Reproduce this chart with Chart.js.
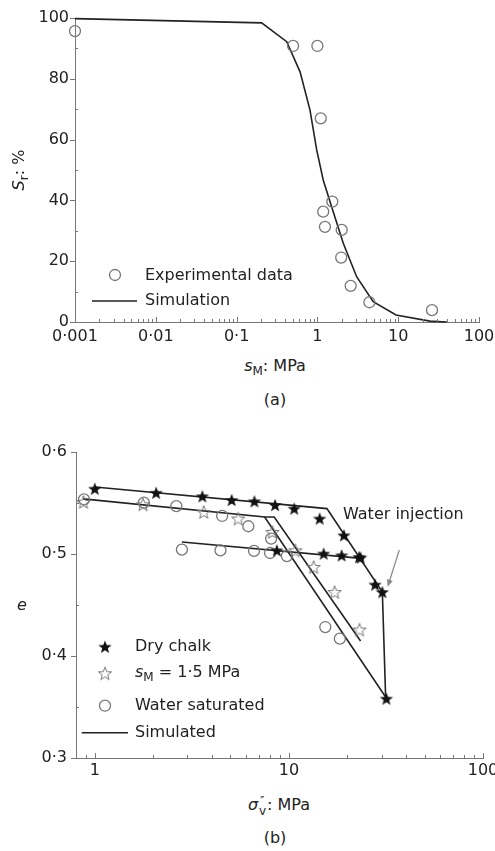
<!DOCTYPE html>
<html><head><meta charset="utf-8">
<script src="https://cdn.jsdelivr.net/npm/chart.js@4"></script>
<style>
body{margin:0;background:#fff;width:495px;height:851px;position:relative;overflow:hidden;font-family:"DejaVu Sans";color:#222}
.c{position:absolute;left:0;width:495px;height:350px}
.t{position:absolute;font-size:16px;white-space:nowrap;line-height:1;transform:translate(-50%,-50%)}
.t sub{font-size:12px;vertical-align:-4px;line-height:0}
.ss{display:inline-block;position:relative;width:9px;height:10px}
.ss .u{position:absolute;left:2px;top:-5px;font-size:12px}
.ss .d{position:absolute;left:1px;top:5px;font-size:12px}
</style></head><body>
<div class="c" style="top:0"><canvas id="ca"></canvas></div>
<div class="c" style="top:430px"><canvas id="cb"></canvas></div>
<div class="t" style="left:19px;top:170px;transform:translate(-50%,-50%) rotate(-90deg)"><i>S</i><sub>r</sub>: %</div>
<div class="t" style="left:275px;top:366px"><i>s</i><sub>M</sub>: MPa</div>
<div class="t" style="left:275px;top:400px">(a)</div>
<div class="t" style="left:22px;top:605px"><i>e</i></div>
<div class="t" style="left:279px;top:805px"><i>σ</i><span class="ss"><span class="u">″</span><span class="d">v</span></span>: MPa</div>
<div class="t" style="left:275px;top:838px">(b)</div>
<script>
// ---------- Chart (a) data ----------
const expX = [0.001, 0.5, 1.0, 1.1, 1.53, 1.18, 1.24, 2.0, 1.97, 2.58, 4.4, 26.2];
const expY = [95.7, 90.8, 90.8, 67, 39.6, 36.3, 31.3, 30.3, 21.2, 11.9, 6.5, 3.9];
const simX = [0.001, 0.204, 0.417, 0.61, 0.81, 0.98, 1.18, 1.5, 2.09, 3.06, 4.9, 9.4, 24.7, 39.8];
const simY = [99.8, 98.4, 92.2, 82.3, 69.7, 56.6, 46.7, 37.9, 25.9, 14.9, 6.7, 2.3, 0.3, 0];
const aMajorX = [0.001, 0.01, 0.1, 1, 10, 100];
const aMajorY = [0, 20, 40, 60, 80, 100];
const aMinorY = [10, 30, 50, 70, 90];

// ---------- Chart (b) data ----------
const dryX = [1.0, 2.07, 3.58, 5.07, 6.64, 8.49, 10.65, 14.4, 19.2, 23.4, 27.8, 30.3, 31.8, 8.67, 15.1, 18.7, 23.0];
const dryY = [0.564, 0.560, 0.5566, 0.553, 0.5517, 0.548, 0.5445, 0.5347, 0.5183, 0.4965, 0.470, 0.4627, 0.3582, 0.5036, 0.5004, 0.4987, 0.497];
const smX = [0.874, 1.77, 3.64, 5.48, 8.22, 10.8, 13.4, 17.2, 23.1];
const smY = [0.551, 0.5487, 0.5412, 0.5347, 0.5216, 0.5036, 0.4873, 0.4627, 0.4259];
const satX = [0.88, 1.79, 2.63, 4.53, 6.18, 8.1, 2.81, 4.44, 6.61, 8.0, 9.76, 15.4, 18.3];
const satY = [0.5536, 0.5504, 0.547, 0.5373, 0.5272, 0.5151, 0.5043, 0.5036, 0.503, 0.501, 0.498, 0.4284, 0.417];
const dryLineX = [1.0, 15.7, 30.3, 31.5];
const dryLineY = [0.5657, 0.5445, 0.4627, 0.3598];
const satLineX = [0.87, 7.5, 31.5];
const satLineY = [0.554, 0.5363, 0.3598];
const smLineX = [7.5, 8.4, 23.4];
const smLineY = [0.5363, 0.5363, 0.4147];
const reloadX = [2.81, 24.4];
const reloadY = [0.5118, 0.4955];
const bMajorX = [1, 10, 100];
const bMajorY = [0.3, 0.4, 0.5, 0.6];
const bMinorY = [0.35, 0.45, 0.55];

function minorsLog(lo, hi, min, max){
  const out=[];
  for(let e=lo;e<hi;e++){const d=Math.pow(10,e);for(let k=2;k<=9;k++){const v=k*d;if(v>=min&&v<=max)out.push(v);} }
  return out;
}
const aMinorX = minorsLog(-3, 2, 0.001, 100);
const bMinorX = minorsLog(-1, 2, 0.8, 100);

const pts = (xs, ys) => xs.map((x,i)=>({x, y: ys[i]}));
const fmt = v => String(v).replace('.', '·');

Chart.defaults.font.family = '"DejaVu Sans"';
Chart.defaults.font.size = 16;
Chart.defaults.color = '#222';

const AXC = '#777';
const LINEC = '#222';
const CIRC = '#777';

function makeStar(fill, stroke){
  const c=document.createElement('canvas'); c.width=16; c.height=16;
  const g=c.getContext('2d'); g.beginPath();
  for(let i=0;i<10;i++){const r=i%2?2.9:7; const a=-Math.PI/2+i*Math.PI/5; g.lineTo(8+r*Math.cos(a),8.7+r*Math.sin(a));}
  g.closePath();
  if(fill){g.fillStyle=fill; g.fill();}
  if(stroke){g.strokeStyle=stroke; g.lineWidth=1; g.stroke();}
  return c;
}
const starFilled = makeStar('#111', null);
const starOpen = makeStar(null, '#777');

const tickPlugin = {
  id:'ticks2',
  afterDraw(chart, args, o){
    const ctx=chart.ctx, xs=chart.scales.x, ys=chart.scales.y, a=chart.chartArea;
    ctx.save(); ctx.strokeStyle=AXC; ctx.lineWidth=1; ctx.beginPath();
    o.majorX.forEach(v=>{const p=Math.round(xs.getPixelForValue(v))+0.5; ctx.moveTo(p,a.bottom); ctx.lineTo(p,a.bottom-5);});
    o.minorX.forEach(v=>{const p=Math.round(xs.getPixelForValue(v))+0.5; ctx.moveTo(p,a.bottom); ctx.lineTo(p,a.bottom-3);});
    o.majorY.forEach(v=>{const p=Math.round(ys.getPixelForValue(v))+0.5; ctx.moveTo(a.left,p); ctx.lineTo(a.left-5,p);});
    o.minorY.forEach(v=>{const p=Math.round(ys.getPixelForValue(v))+0.5; ctx.moveTo(a.left,p); ctx.lineTo(a.left+3,p);});
    ctx.stroke(); ctx.restore();
  }
};

function xScale(min, max, majors, pad, axisH){
  return {type:'logarithmic', min, max,
    grid:{display:true, drawOnChartArea:false, drawTicks:false},
    border:{display:true, color:AXC, width:1},
    ticks:{autoSkip:false, maxRotation:0, padding:pad, color:'#222', callback:v=>fmt(v)},
    afterBuildTicks:s=>{s.ticks=majors.map(v=>({value:v}));},
    afterFit:s=>{s.height=axisH; s.paddingLeft=0; s.paddingRight=0;}
  };
}
function yScale(min, max, majors, pad, axisW, f){
  return {type:'linear', min, max,
    grid:{display:true, drawOnChartArea:false, drawTicks:false},
    border:{display:true, color:AXC, width:1},
    ticks:{autoSkip:false, padding:pad, color:'#222', callback:f},
    afterBuildTicks:s=>{s.ticks=majors.map(v=>({value:v}));},
    afterFit:s=>{s.width=axisW; s.paddingTop=0; s.paddingBottom=0;}
  };
}

// ---------- Chart (a) ----------
const legendA = {
  id:'legA',
  afterDraw(chart){
    const ctx=chart.ctx; ctx.save();
    ctx.strokeStyle=CIRC; ctx.lineWidth=1.3;
    ctx.beginPath(); ctx.arc(115,275,5.5,0,Math.PI*2); ctx.stroke();
    ctx.strokeStyle=LINEC; ctx.lineWidth=1.6;
    ctx.beginPath(); ctx.moveTo(92,301); ctx.lineTo(137,301); ctx.stroke();
    ctx.fillStyle='#222'; ctx.font='16px "DejaVu Sans"'; ctx.textBaseline='middle';
    ctx.fillText('Experimental data',145,276);
    ctx.fillText('Simulation',145,301);
    ctx.restore();
  }
};
new Chart(document.getElementById('ca'), {
  type:'scatter',
  data:{datasets:[
    {data:pts(expX,expY), pointStyle:'circle', pointRadius:5.5, pointBorderColor:CIRC, pointBackgroundColor:'rgba(0,0,0,0)', pointBorderWidth:1.3, showLine:false, clip:false, order:0},
    {data:pts(simX,simY), showLine:true, borderColor:LINEC, borderWidth:1.6, pointRadius:0, tension:0, clip:false, order:1}
  ]},
  options:{responsive:true, maintainAspectRatio:false, animation:false, events:[],
    layout:{padding:{top:18, right:16, left:0, bottom:0}},
    plugins:{legend:{display:false}, tooltip:{enabled:false},
      ticks2:{majorX:aMajorX, minorX:aMinorX, majorY:aMajorY, minorY:aMinorY}},
    scales:{x:xScale(0.001,100,aMajorX,5,28), y:yScale(0,100,aMajorY,6,75,v=>String(v))}
  },
  plugins:[tickPlugin, legendA]
});

// ---------- Chart (b) ----------
const legendB = {
  id:'legB',
  afterDraw(chart){
    const ctx=chart.ctx; ctx.save();
    ctx.drawImage(starFilled,105-8,216.7-8);
    ctx.drawImage(starOpen,105-8,243.3-8);
    ctx.strokeStyle=CIRC; ctx.lineWidth=1.3;
    ctx.beginPath(); ctx.arc(105,275.7,5.5,0,Math.PI*2); ctx.stroke();
    ctx.strokeStyle=LINEC; ctx.lineWidth=1.6;
    ctx.beginPath(); ctx.moveTo(81.7,302.7); ctx.lineTo(128,302.7); ctx.stroke();
    ctx.fillStyle='#222'; ctx.textBaseline='middle';
    ctx.font='16px "DejaVu Sans"';
    ctx.fillText('Dry chalk',135,216.7);
    ctx.fillText('Water saturated',135,275.7);
    ctx.fillText('Simulated',135,302.7);
    ctx.font='italic 16px "DejaVu Sans"';
    ctx.fillText('s',135,243.3);
    let x=135+ctx.measureText('s').width;
    ctx.font='12px "DejaVu Sans"';
    ctx.fillText('M',x,248);
    x+=ctx.measureText('M').width;
    ctx.font='16px "DejaVu Sans"';
    ctx.fillText(' = 1·5 MPa',x,243.3);
    // annotation
    ctx.fillText('Water injection',343,85);
    const x1=399.3,y1=120,x2=387.7,y2=156.7;
    ctx.strokeStyle='#888'; ctx.fillStyle='#888'; ctx.lineWidth=1.2;
    const dx=x2-x1, dy=y2-y1, L=Math.hypot(dx,dy), ux=dx/L, uy=dy/L;
    ctx.beginPath(); ctx.moveTo(x1,y1); ctx.lineTo(x2-ux*6,y2-uy*6); ctx.stroke();
    ctx.beginPath(); ctx.moveTo(x2,y2); ctx.lineTo(x2-ux*7-uy*3,y2-uy*7+ux*3); ctx.lineTo(x2-ux*7+uy*3,y2-uy*7-ux*3); ctx.closePath(); ctx.fill();
    ctx.restore();
  }
};
const lineDS = (xs, ys) => ({data:pts(xs,ys), showLine:true, borderColor:LINEC, borderWidth:1.6, pointRadius:0, tension:0, clip:false, order:2});
new Chart(document.getElementById('cb'), {
  type:'scatter',
  data:{datasets:[
    lineDS(dryLineX,dryLineY), lineDS(satLineX,satLineY), lineDS(smLineX,smLineY), lineDS(reloadX,reloadY),
    {data:pts(satX,satY), pointStyle:'circle', pointRadius:5.5, pointBorderColor:CIRC, pointBackgroundColor:'rgba(0,0,0,0)', pointBorderWidth:1.3, showLine:false, clip:false, order:1},
    {data:pts(smX,smY), pointStyle:starOpen, pointRadius:7, showLine:false, clip:false, order:0},
    {data:pts(dryX,dryY), pointStyle:starFilled, pointRadius:7, showLine:false, clip:false, order:0}
  ]},
  options:{responsive:true, maintainAspectRatio:false, animation:false, events:[],
    layout:{padding:{top:22, right:12, left:0, bottom:0}},
    plugins:{legend:{display:false}, tooltip:{enabled:false},
      ticks2:{majorX:bMajorX, minorX:bMinorX, majorY:bMajorY, minorY:bMinorY}},
    scales:{x:xScale(0.8,100,bMajorX,3,22), y:yScale(0.3,0.6,bMajorY,9,76,v=>v.toFixed(1).replace('.','·'))}
  },
  plugins:[tickPlugin, legendB]
});
</script>
</body></html>
